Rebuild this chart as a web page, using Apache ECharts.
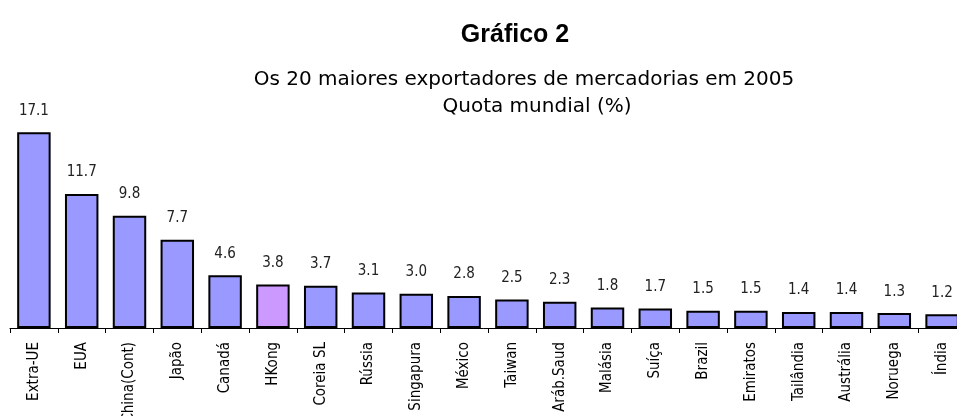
<!DOCTYPE html>
<html>
<head>
<meta charset="utf-8">
<script src="https://cdn.jsdelivr.net/npm/echarts@6/dist/echarts.min.js"></script>
<style>
    html, body { margin: 0; padding: 0; background: #fff; }
    #chart { width: 957px; height: 416px; }
</style>
</head>
<body>
<div id="chart"></div>
<script>
/** ----------------数据------------------------- */
var paises = ['Extra-UE', 'EUA', 'China(Cont)', 'Japão', 'Canadá', 'HKong', 'Coreia SL', 'Rússia',
    'Singapura', 'México', 'Taiwan', 'Aráb.Saud', 'Malásia', 'Suíça', 'Brazil', 'Emiratos',
    'Tailândia', 'Austrália', 'Noruega', 'Índia'];
var quota = [17.1, 11.7, 9.8, 7.7, 4.6, 3.8, 3.7, 3.1, 3.0, 2.8, 2.5, 2.3, 1.8, 1.7, 1.5, 1.5, 1.4, 1.4, 1.3, 1.2];
var destaque = 'HKong';

var narrow = '"DejaVu Sans Condensed", "Liberation Sans Narrow", sans-serif';

/** --------加载图表 ------ */
function initChart() {
    var chart = echarts.init(document.getElementById('chart'));
    var dados = [];
    for (var i = 0; i < quota.length; i++) {
        dados.push({
            value: quota[i],
            itemStyle: { color: paises[i] == destaque ? '#CC99FF' : '#9999FF' }
        });
    }
    var option = {
        backgroundColor: '#ffffff',
        animation: false,
        title: [
            {
                text: 'Gráfico 2',
                left: 510, top: 18, textAlign: 'center',
                textStyle: { fontFamily: '"Liberation Sans", Arial, sans-serif', fontSize: 25, fontWeight: 'bold', color: '#000' }
            },
            {
                text: 'Os 20 maiores exportadores de mercadorias em 2005',
                left: 519, top: 65, textAlign: 'center',
                textStyle: { fontFamily: '"DejaVu Sans", sans-serif', fontSize: 20, fontWeight: 'normal', color: '#000' }
            },
            {
                text: 'Quota mundial (%)',
                left: 532, top: 92, textAlign: 'center',
                textStyle: { fontFamily: '"DejaVu Sans", sans-serif', fontSize: 20, fontWeight: 'normal', color: '#000' }
            }
        ],
        grid: { left: 10, width: 956, top: 99, height: 229, containLabel: false, outerBoundsMode: 'none' },
        xAxis: {
            type: 'category',
            data: paises,
            axisLine: { lineStyle: { color: '#000', width: 1 } },
            axisTick: { show: true, length: 5, lineStyle: { color: '#000' } },
            axisLabel: {
                rotate: 90, interval: 0, margin: 14,
                fontFamily: narrow, fontSize: 15, color: '#000'
            }
        },
        yAxis: {
            type: 'value', min: 0, max: 20,
            show: false,
            splitLine: { show: false }
        },
        series: [{
            type: 'bar',
            data: dados,
            barCategoryGap: '30%',
            itemStyle: { borderColor: '#000', borderWidth: 2 },
            label: {
                show: true, position: 'top', distance: 14,
                fontFamily: narrow, fontSize: 15, color: '#222',
                formatter: function (p) { return p.value.toFixed(1); }
            }
        }]
    };
    chart.setOption(option);
}

initChart();
</script>
</body>
</html>
